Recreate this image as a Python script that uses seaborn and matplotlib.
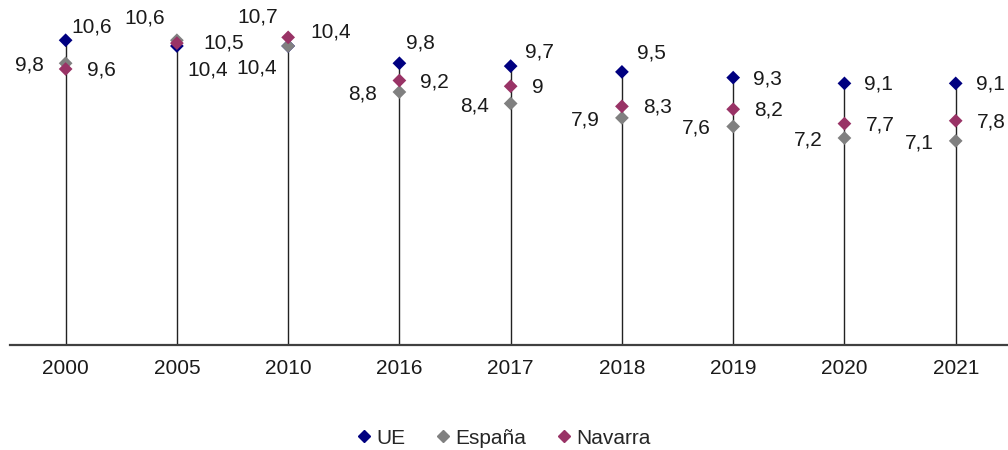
import numpy as np
import pandas as pd
import seaborn as sns
import matplotlib.pyplot as plt
from matplotlib.lines import Line2D

# %% Data
years = ['2000', '2005', '2010', '2016', '2017', '2018', '2019', '2020', '2021']
ue = [10.6, 10.4, 10.4, 9.8, 9.7, 9.5, 9.3, 9.1, 9.1]
espana = [9.8, 10.6, 10.4, 8.8, 8.4, 7.9, 7.6, 7.2, 7.1]
navarra = [9.6, 10.5, 10.7, 9.2, 9.0, 8.3, 8.2, 7.7, 7.8]

series = ['UE', 'España', 'Navarra']
colors = {'UE': '#000080', 'España': '#808080', 'Navarra': '#993366'}

df = pd.DataFrame({'year': years * 3,
                   'serie': np.repeat(series, len(years)),
                   'valor': ue + espana + navarra})

# %% Label placement (pixels, y up) - default per series, overrides where Excel moved them
default_pos = {'UE': (20, -1, 'left'), 'España': (-22, -2, 'right'), 'Navarra': (21, -1, 'left')}
label_pos = {
    ('2000', 'UE'): (6, 13, 'left'),
    ('2016', 'UE'): (7, 20, 'left'),
    ('2017', 'UE'): (14, 14, 'left'),
    ('2018', 'UE'): (15, 19, 'left'),
    ('2005', 'España'): (-12, 22, 'right'),
    ('2005', 'Navarra'): (26, 0, 'left'),
    ('2005', 'UE'): (10, -24, 'left'),
    ('2010', 'Navarra'): (-10, 20, 'right'),
    ('2010', 'UE'): (22, 14, 'left'),
    ('2010', 'España'): (-11, -22, 'right'),
}

# %% Plot
sns.set_style('white')
plt.rcParams['font.family'] = ['Liberation Sans', 'DejaVu Sans']

fig = plt.figure(figsize=(10.08, 4.5), dpi=100)
ax = fig.add_axes([10 / 1008, 105 / 450, 998 / 1008, 345 / 450])

tops = df.groupby('year', sort=False)['valor'].max().values
ax.vlines(range(len(years)), 0, tops, color='#222222', lw=1, zorder=1)

sns.stripplot(data=df, x='year', y='valor', hue='serie', palette=colors,
              jitter=False, dodge=False, marker='D', size=7, linewidth=0,
              legend=False, ax=ax, zorder=3)

for i, yr in enumerate(years):
    for s, vals in zip(series, [ue, espana, navarra]):
        dx, dy, ha = label_pos.get((yr, s), default_pos[s])
        txt = ('%.1f' % vals[i]).replace('.', ',').replace(',0', '')
        ax.annotate(txt, (i, vals[i]), xytext=(dx, dy), textcoords='offset pixels',
                    ha=ha, va='center', fontsize=15, color='#1a1a1a')

ax.set_xlim(-0.5, 8.47)
ax.set_ylim(0, 12)
ax.set_xlabel('')
ax.set_ylabel('')
ax.set_yticks([])
ax.tick_params(axis='x', length=0, pad=10, labelsize=15, labelcolor='#1a1a1a')
for sp in ['top', 'left', 'right']:
    ax.spines[sp].set_visible(False)
ax.spines['bottom'].set_color('#404040')
ax.spines['bottom'].set_linewidth(1.6)

handles = [Line2D([], [], marker='D', color=colors[s], linestyle='', markersize=6)
           for s in series]
fig.legend(handles, series, loc='center', bbox_to_anchor=(0.5, 1 - 438 / 450), ncol=3,
           frameon=False, fontsize=15, handlelength=0.6, handletextpad=0.3,
           columnspacing=1.5)

fig.savefig('out.png', dpi=100)
